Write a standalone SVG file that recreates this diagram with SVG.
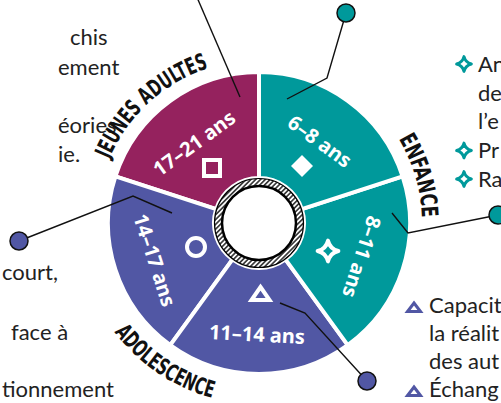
<svg xmlns="http://www.w3.org/2000/svg" width="501" height="403" viewBox="0 0 501 403">
<defs>
<style>
.seg{stroke:#fff;stroke-width:4;stroke-linejoin:round}
.mag{fill:#95225E}.teal{fill:#00999B}.pur{fill:#5157A4}
.lab{font-family:"Noto Sans","DejaVu Sans",sans-serif;font-weight:700;font-size:20px;fill:#fff;text-anchor:middle;dominant-baseline:central}
.sym{fill:none;stroke:#fff;stroke-width:4}
.cat{font-family:"DejaVu Sans Condensed","DejaVu Sans",sans-serif;font-stretch:condensed;font-weight:700;font-size:23px;fill:#111}
.body{font-family:Lato,"Noto Sans",sans-serif;font-size:22px;fill:#222}
.conn{fill:none;stroke:#111;stroke-width:1.4}
.dot{stroke:#111;stroke-width:1.5}
.bstar{fill:none;stroke:#00999B;stroke-width:3.6;stroke-linejoin:round}
.btri{fill:none;stroke:#5157A4;stroke-width:3}
</style>
<pattern id="hatch" width="3.4" height="3.4" patternUnits="userSpaceOnUse" patternTransform="rotate(45)">
<rect width="3.4" height="3.4" fill="#fff"/>
<line x1="1.7" y1="0" x2="1.7" y2="3.4" stroke="#000" stroke-width="1.3"/>
</pattern>
<path id="arcJA" d="M101.55,180.81 A163,163 0 0 1 230.70,62.48" fill="none"/>
<path id="arcEN" d="M383.86,118.22 A163,163 0 0 1 420.79,242.86" fill="none"/>
<path id="arcAD" d="M94.96,299.49 A181,181 0 0 0 249.53,403.75" fill="none"/>
<path id="star" d="M0,-9 Q1.8,-1.8 9,0 Q1.8,1.8 0,9 Q-1.8,1.8 -9,0 Q-1.8,-1.8 0,-9 Z"/>
</defs>
<rect width="501" height="403" fill="#fff"/>

<g id="side-text" class="body">
<text x="70" y="45">chis</text>
<text x="58" y="75">ement</text>
<text x="58" y="133">éories</text>
<text x="58" y="162">ie.</text>
<text x="2" y="280">court,</text>
<text x="11" y="340">face à</text>
<text x="2" y="397">tionnement</text>
<text x="478" y="72">An</text>
<text x="478" y="100.5">de</text>
<text x="478" y="129">l’e</text>
<text x="478" y="158">Pr</text>
<text x="478" y="186.5">Ra</text>
<text x="429" y="313">Capacit</text>
<text x="429" y="341">la réalit</text>
<text x="429" y="369">des aut</text>
<text x="429" y="397">Échang</text>
</g>
<g id="bullets">
<use href="#star" class="bstar" transform="translate(464,64) scale(0.82)"/>
<use href="#star" class="bstar" transform="translate(464,150.5) scale(0.82)"/>
<use href="#star" class="bstar" transform="translate(464,179) scale(0.82)"/>
<polygon class="btri" points="414,303 420.5,311.5 407.5,311.5"/>
<polygon class="btri" points="414,387 420.5,395.5 407.5,395.5"/>
</g>

<g id="seg-17-21">
<path class="seg mag" d="M259,72 A151,151 0 0 0 115.39,176.34 L216.20,209.09 A45,45 0 0 1 259,178 Z"/>
<text class="lab" transform="translate(194,143) rotate(-36)">17–21 ans</text>
<rect class="sym" x="204" y="160" width="16" height="16"/>
</g>
<g id="seg-14-17">
<path class="seg pur" d="M115.39,176.34 A151,151 0 0 0 170.24,345.16 L232.55,259.41 A45,45 0 0 1 216.20,209.09 Z"/>
<text class="lab" transform="translate(155,260) rotate(72)">14–17 ans</text>
<circle class="sym" cx="196" cy="247" r="9"/>
</g>
<g id="seg-11-14">
<path class="seg pur" d="M170.24,345.16 A151,151 0 0 0 347.76,345.16 L285.45,259.41 A45,45 0 0 1 232.55,259.41 Z"/>
<text class="lab" transform="translate(257,334) rotate(3)">11–14 ans</text>
<polygon class="sym" points="260.5,287 269.5,300 251.5,300"/>
</g>
<g id="seg-8-11">
<path class="seg teal" d="M347.76,345.16 A151,151 0 0 0 402.61,176.34 L301.80,209.09 A45,45 0 0 1 285.45,259.41 Z"/>
<text class="lab" transform="translate(362,257) rotate(108)">8–11 ans</text>
<use href="#star" class="sym" style="stroke-width:3.5;stroke-linejoin:round" transform="translate(328,251) scale(1.15)"/>
</g>
<g id="seg-6-8">
<path class="seg teal" d="M402.61,176.34 A151,151 0 0 0 259,72 L259,178 A45,45 0 0 1 301.80,209.09 Z"/>
<text class="lab" transform="translate(320,141) rotate(36)">6–8 ans</text>
<polygon fill="#fff" points="302,155 313,166 302,177 291,166"/>
</g>

<g id="hub">
<circle cx="259" cy="223" r="44.5" fill="url(#hatch)" stroke="#000" stroke-width="1.2"/>
<circle cx="259" cy="223" r="37" fill="#fff" stroke="#000" stroke-width="2.5"/>
</g>

<g id="categories" class="cat">
<text><textPath href="#arcJA" startOffset="50%" text-anchor="middle" textLength="139" lengthAdjust="spacingAndGlyphs">JEUNES ADULTES</textPath></text>
<text><textPath href="#arcEN" startOffset="50%" text-anchor="middle" textLength="83" lengthAdjust="spacingAndGlyphs">ENFANCE</textPath></text>
<text><textPath href="#arcAD" startOffset="50%" text-anchor="middle" textLength="120" lengthAdjust="spacingAndGlyphs">ADOLESCENCE</textPath></text>
</g>

<g id="connectors">
<polyline class="conn" points="196,-5 240,97"/>
<polyline class="conn" points="346,13 327,78 287,99"/>
<polyline class="conn" points="19,241 133,196 172,213"/>
<polyline class="conn" points="498,215 408,233 392,213"/>
<polyline class="conn" points="367,381 305,313 280,303"/>
<circle class="dot teal" cx="346" cy="13" r="9"/>
<circle class="dot pur" cx="19" cy="241" r="9"/>
<circle class="dot teal" cx="498" cy="215" r="9"/>
<circle class="dot pur" cx="367" cy="381" r="9"/>
</g>
</svg>
